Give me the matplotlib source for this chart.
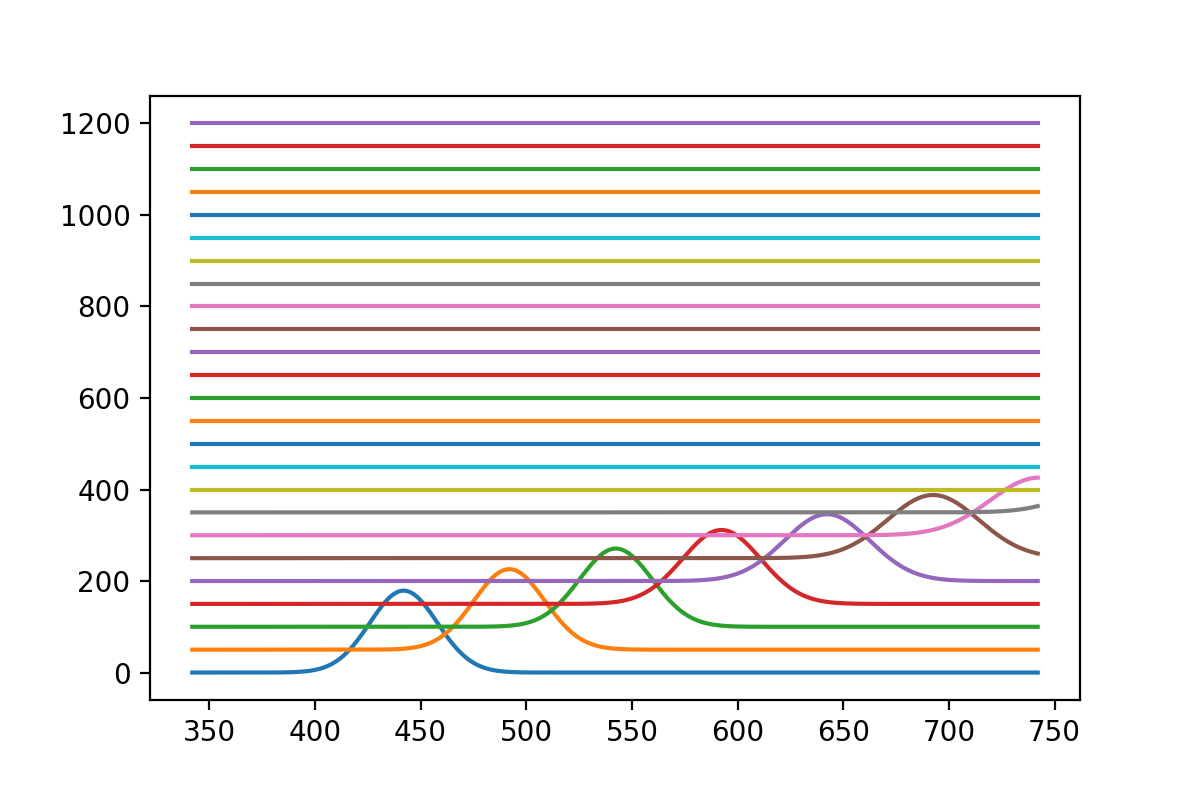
import numpy as np
import matplotlib
matplotlib.use("Agg")
import matplotlib.pyplot as plt

# wavelength grid (nm)
X_START, X_STOP = 342, 742

# vertical offset of each trace
offsets = [0, 50, 100, 150, 200, 250, 300, 350, 400, 450, 500, 550, 600,
           650, 700, 750, 800, 850, 900, 950, 1000, 1050, 1100, 1150, 1200]

# peak parameters (traces past the 8th are flat)
centers = [442.0, 492.0, 542.4, 592.4, 642.3, 692.5, 742.5, 792.5]
amps = [179, 176, 171, 161.5, 146, 138, 126, 115]
widths = [16.0, 16.8, 17.2, 18.6, 20.2, 21.6, 23.0, 24.5]

x = np.arange(X_START, X_STOP + 1, 1.0)

fig, ax = plt.subplots(figsize=(6, 4), dpi=200)
fig.subplots_adjust(left=0.125, right=0.9, bottom=0.125, top=0.88)

for i, off in enumerate(offsets):
    y = np.full_like(x, float(off))
    if i < len(centers):
        y += amps[i] * np.exp(-(x - centers[i]) ** 2 / (2 * widths[i] ** 2))
    ax.plot(x, y)

fig.savefig("out.png")
